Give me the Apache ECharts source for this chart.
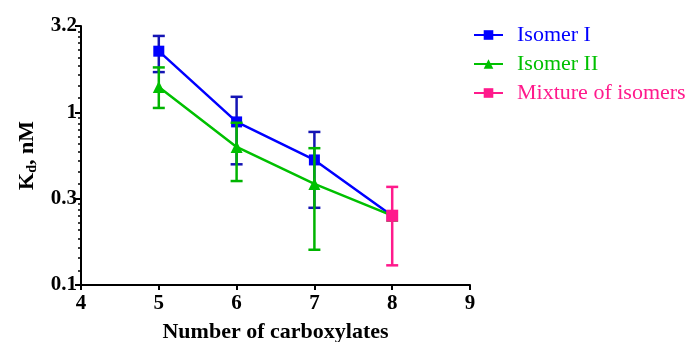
<!DOCTYPE html>
<html>
<head>
<meta charset="utf-8">
<script src="https://cdn.jsdelivr.net/npm/echarts@6/dist/echarts.min.js"></script>
<style>
  html, body { margin: 0; padding: 0; background: #fff; }
  #chart { width: 689px; height: 342px; }
</style>
</head>
<body>
<div id="chart"></div>
<script>
// x = number of carboxylates, values = Kd (nM), low/high = error bar ends
const isomer1X = [5, 6, 7, 8];
const isomer1Kd = [2.26, 0.88, 0.53, 0.252];
const isomer1Low = [1.71, 0.50, 0.28, null];
const isomer1High = [2.77, 1.23, 0.77, null];

const isomer2X = [5, 6, 7, 8];
const isomer2Kd = [1.40, 0.63, 0.385, 0.252];
const isomer2Low = [1.06, 0.40, 0.16, null];
const isomer2High = [1.82, 0.87, 0.62, null];

const mixtureX = [8];
const mixtureKd = [0.252];
const mixtureLow = [0.13];
const mixtureHigh = [0.37];

// log axis ticks (half decades)
const yTickValues = [0.1, 0.3162, 1, 3.162];
const yTickLabels = ['0.1', '0.3', '1', '3.2'];
const xTicks = [4, 5, 6, 7, 8, 9];

const FONT = '"Liberation Serif", "Times New Roman", serif';
const lg = v => Math.log10(v);

// minor ticks: 10 linear steps inside every half decade
const minorTicks = [];
for (let i = 0; i < yTickValues.length - 1; i++) {
  const a = yTickValues[i], b = yTickValues[i + 1];
  for (let k = 1; k < 10; k++) minorTicks.push(lg(a + (b - a) * k / 10));
}

const pts = (xs, ys) => xs.map((x, i) => [x, lg(ys[i])]);
const bars = (xs, lo, hi) => xs.map((x, i) => [x, lo[i], hi[i]])
  .filter(d => d[1] != null)
  .map(d => [d[0], lg(d[1]), lg(d[2])]);

function errorBar(color, data, z) {
  return {
    type: 'custom',
    z: z,
    silent: true,
    data: data,
    renderItem: (params, api) => {
      const x = api.value(0);
      const lo = api.coord([x, api.value(1)]);
      const hi = api.coord([x, api.value(2)]);
      const w = 6;
      const st = { stroke: color, lineWidth: 2.5 };
      return {
        type: 'group',
        children: [
          { type: 'line', shape: { x1: lo[0], y1: lo[1], x2: hi[0], y2: hi[1] }, style: st },
          { type: 'line', shape: { x1: lo[0] - w, y1: lo[1], x2: lo[0] + w, y2: lo[1] }, style: st },
          { type: 'line', shape: { x1: hi[0] - w, y1: hi[1], x2: hi[0] + w, y2: hi[1] }, style: st }
        ]
      };
    }
  };
}

const blue = '#0000ff', green = '#00c000', pink = '#ff1a8c';

const chart = echarts.init(document.getElementById('chart'));
chart.setOption({
  animation: false,
  grid: { left: 81, right: 219, top: 26, bottom: 57, outerBoundsMode: 'none' },
  legend: {
    orient: 'vertical',
    left: 473,
    top: 24,
    padding: 0,
    itemWidth: 29,
    itemHeight: 12,
    itemGap: 7,
    textStyle: { fontFamily: FONT, fontSize: 22, padding: [0, 0, 0, 9] },
    data: [
      { name: 'Isomer I', textStyle: { color: blue } },
      { name: 'Isomer II', textStyle: { color: green } },
      { name: 'Mixture of isomers', textStyle: { color: pink } }
    ]
  },
  xAxis: {
    type: 'value',
    min: 4, max: 9, interval: 1,
    name: 'Number of carboxylates',
    nameLocation: 'middle',
    nameGap: 36,
    nameTextStyle: { fontFamily: FONT, fontSize: 22, fontWeight: 'bold', color: '#000' },
    axisLine: { onZero: false, lineStyle: { color: '#000', width: 2 } },
    axisTick: { length: 5, lineStyle: { color: '#000', width: 2 } },
    axisLabel: { customValues: xTicks, margin: 8, fontFamily: FONT, fontSize: 21, fontWeight: 'bold', color: '#000' },
    splitLine: { show: false }
  },
  yAxis: [{
    type: 'value',
    min: lg(yTickValues[0]), max: lg(yTickValues[3]), interval: 0.5,
    name: '{a|K}{b|d}{a|, nM}',
    nameLocation: 'middle',
    nameGap: 40,
    nameTextStyle: {
      rich: {
        a: { fontFamily: FONT, fontSize: 22, fontWeight: 'bold', color: '#000' },
        b: { fontFamily: FONT, fontSize: 14, fontWeight: 'bold', color: '#000', padding: [12, 0, 0, 0] }
      }
    },
    axisLine: { show: true, lineStyle: { color: '#000', width: 2 } },
    axisTick: { show: true, length: 6, lineStyle: { color: '#000', width: 2 } },
    axisLabel: {
      margin: 4,
      fontFamily: FONT, fontSize: 21, fontWeight: 'bold', color: '#000',
      formatter: v => {
        const i = yTickValues.findIndex(t => Math.abs(lg(t) - v) < 0.01);
        return i >= 0 ? yTickLabels[i] : '';
      }
    },
    splitLine: { show: false }
  }, {
    type: 'value',
    position: 'left',
    min: lg(yTickValues[0]), max: lg(yTickValues[3]),
    axisLine: { show: false },
    axisTick: { show: true, length: 3, customValues: minorTicks, lineStyle: { color: '#000', width: 1.5 } },
    axisLabel: { show: false },
    splitLine: { show: false }
  }],
  series: [
    errorBar('#1414b4', bars(isomer1X, isomer1Low, isomer1High), 2),
    {
      name: 'Isomer I',
      type: 'line',
      z: 3,
      data: pts(isomer1X, isomer1Kd),
      symbol: 'rect',
      symbolSize: 11,
      color: blue,
      lineStyle: { width: 2.5, color: blue },
      itemStyle: { color: blue }
    },
    errorBar('#00b400', bars(isomer2X, isomer2Low, isomer2High), 4),
    {
      name: 'Isomer II',
      type: 'line',
      z: 5,
      data: pts(isomer2X, isomer2Kd),
      symbol: 'triangle',
      symbolSize: 12,
      color: green,
      lineStyle: { width: 2.5, color: green },
      itemStyle: { color: green }
    },
    errorBar(pink, bars(mixtureX, mixtureLow, mixtureHigh), 6),
    {
      name: 'Mixture of isomers',
      type: 'line',
      z: 7,
      data: pts(mixtureX, mixtureKd),
      symbol: 'rect',
      symbolSize: 12,
      color: pink,
      lineStyle: { width: 2.5, color: pink },
      itemStyle: { color: pink }
    }
  ]
});
</script>
</body>
</html>
